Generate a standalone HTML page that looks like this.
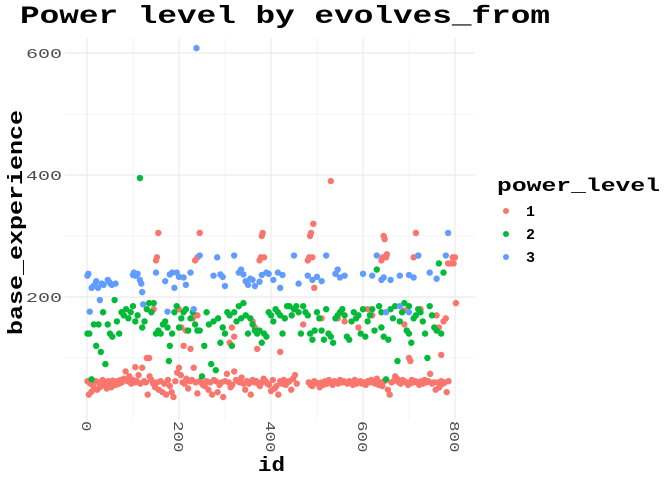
<!DOCTYPE html>
<html><head><meta charset="utf-8"><style>
body{margin:0;background:#fff}
svg text{font-family:"Liberation Mono",monospace}
</style></head><body>
<svg id="chart" width="672" height="480" xmlns="http://www.w3.org/2000/svg">
<rect width="672" height="480" fill="#fff"/>
<text x="20" y="23" font-size="25" font-weight="bold" textLength="530" lengthAdjust="spacingAndGlyphs" fill="#000">Power level by evolves_from</text>
<g id="grid"></g>
<g id="points"></g>
<g id="axes"></g>
<text x="258" y="471" font-size="20" font-weight="bold" textLength="27" lengthAdjust="spacingAndGlyphs">id</text>
<text transform="translate(22,335) rotate(-90)" font-size="20" font-weight="bold" textLength="225" lengthAdjust="spacingAndGlyphs">base_experience</text>
<g>
<text x="497" y="191" font-size="18" font-weight="bold" textLength="163" lengthAdjust="spacingAndGlyphs">power_level</text>
<g><circle cx="506" cy="211" r="3" fill="#F8766D"/><text x="526" y="216" font-size="15" font-weight="bold">1</text></g>
<g><circle cx="506" cy="234" r="3" fill="#00BA38"/><text x="526" y="239" font-size="15" font-weight="bold">2</text></g>
<g><circle cx="506" cy="257" r="3" fill="#619CFF"/><text x="526" y="262" font-size="15" font-weight="bold">3</text></g>
</g>
</svg>
<script>
const xTicks=[0,200,400,600,800];
const yTicks=[200,400,600];
const redIds=[1,4,7,10,13,16,19,22,25,28,31,34,37,40,43,46,50,53,56,60,63,66,70,73,76,80,84,88,92,96,100,104,108,112,116,120,124,128,132,136,140,144,148,152,156,160,164,168,172,176,180,184,188,192,196,200,204,208,212,216,220,224,228,232,236,240,244,248,252,256,260,264,268,272,276,280,284,288,292,296,300,304,308,312,316,320,324,328,332,336,340,344,348,352,356,360,364,368,372,376,380,384,388,392,396,400,404,408,412,416,420,424,428,432,436,440,444,448,452,456,482,486,490,494,498,502,506,510,514,518,522,526,530,534,538,542,546,550,554,558,562,566,570,574,578,582,586,590,594,598,602,606,610,614,618,622,626,630,634,638,642,646,650,654,658,662,666,670,674,678,682,686,690,694,698,702,706,710,714,718,722,726,730,734,738,742,746,750,754,758,762,766,770,774,778,782,786,
130,135,105,150,152,155,140,145,235,240,245,200,205,210,215,225,230,240,310,315,320,360,365,370,375,378,380,382,385,420,430,470,480,483,485,487,490,492,494,510,530,545,560,590,610,620,640,643,645,647,650,652,690,700,703,710,715,720,725,760,765,770,775,780,785,790,795,800,802,797,690];
const redVals=[62,40,58,45,55,50,62,48,60,52,58,64,55,60,50,62,58,52,63,60,56,62,58,64,60,66,78,62,70,58,64,60,62,72,58,84,62,60,40,70,64,58,52,60,48,62,44,58,40,64,54,44,36,62,76,84,72,60,58,66,50,62,64,84,60,42,62,60,56,54,62,48,60,40,64,62,44,56,60,36,62,74,60,52,56,78,64,62,60,68,58,48,62,58,40,64,60,62,58,54,60,66,62,58,56,46,64,50,54,40,62,58,64,56,60,62,48,66,72,58,60,56,54,62,60,58,52,60,56,62,58,64,60,56,62,60,58,64,60,62,60,58,62,60,56,64,58,60,62,58,60,56,62,60,64,60,58,66,56,60,54,62,64,48,40,60,62,70,66,60,58,64,62,60,56,58,64,60,62,60,56,62,58,64,60,62,74,58,60,48,60,52,62,58,60,44,62,
100,100,85,260,265,305,175,180,260,265,305,180,150,120,145,115,165,170,125,150,135,160,150,115,260,265,300,305,265,110,165,155,260,265,300,305,265,320,215,165,390,165,160,150,180,170,260,265,300,295,265,270,155,100,95,265,305,268,180,170,150,105,160,165,255,255,265,265,190,255,178];
const greenIds=[1,5,10,15,20,25,30,35,40,45,50,55,60,65,70,75,80,85,90,95,100,105,110,115,120,125,130,135,140,145,150,155,160,165,170,175,178,180,185,190,195,200,205,210,215,220,225,230,235,240,245,250,255,260,265,270,275,280,285,290,295,300,305,310,315,320,325,330,335,340,345,350,355,360,365,370,375,380,385,390,395,400,405,410,415,420,425,430,435,440,445,450,455,460,465,470,475,480,485,490,495,500,505,510,515,520,525,530,535,540,545,550,555,560,565,570,575,580,585,590,595,600,605,610,615,620,625,630,635,640,645,650,655,660,665,670,675,680,685,690,695,700,705,710,715,720,725,730,735,740,745,750,755,760,765,770,775,700,640];
const greenVals=[140,140,65,155,120,155,110,175,90,155,140,135,195,160,140,175,170,180,165,175,185,160,170,395,150,160,180,190,175,190,140,145,140,155,160,150,95,120,140,175,185,150,165,175,180,145,165,175,155,145,145,70,120,175,155,90,160,80,165,125,150,140,175,170,120,175,160,185,165,190,170,140,165,155,145,140,145,125,140,135,175,170,160,180,175,170,140,165,185,185,170,180,185,175,140,185,175,170,140,130,145,175,165,145,130,180,140,135,125,165,170,175,180,170,135,130,160,175,165,170,140,180,135,160,170,180,145,245,185,150,135,65,130,180,165,185,95,160,175,190,145,140,125,165,170,180,175,160,140,100,185,170,150,145,255,140,240,185,175];
const blueIds=[1,3,6,10,14,17,20,24,28,32,36,45,48,51,54,62,100,102,105,110,115,118,120,122,150,170,175,180,185,190,195,200,210,215,225,232,238,245,275,283,290,295,300,320,330,335,340,345,350,355,360,365,375,380,390,395,405,415,420,425,450,460,480,490,500,510,520,540,545,550,560,600,620,630,640,645,660,680,700,710,720,745,760,780,785,680,700,650];
const blueVals=[235,238,176,215,218,220,226,215,195,222,220,228,225,222,220,222,236,240,235,238,228,222,208,188,240,226,176,237,240,215,240,233,232,220,240,180,608,268,235,265,237,233,218,268,240,245,237,226,220,230,228,218,225,236,240,238,228,240,215,236,268,222,235,228,233,226,268,238,245,232,235,238,235,268,228,232,228,235,236,232,268,240,230,268,305,185,175,175];

const NS="http://www.w3.org/2000/svg";
const X0=65,X1=475,Y0=38,Y1=420;
function xs(v){return 87+v*0.46;}
function ys(v){return 419-v*0.61;}
const grid=document.getElementById('grid');
function line(x1,y1,x2,y2,w,name){
  const l=document.createElementNS(NS,'line');
  l.setAttribute('x1',x1);l.setAttribute('y1',y1);l.setAttribute('x2',x2);l.setAttribute('y2',y2);
  l.setAttribute('stroke','#ebebeb');l.setAttribute('stroke-width',w);
  
  
  grid.appendChild(l);
}
for(let v=100;v<=700;v+=200){line(xs(v),Y0,xs(v),Y1,0.6,'x-minor-gridline');line(X0,ys(v),X1,ys(v),0.6,'y-minor-gridline');}
xTicks.forEach(v=>line(xs(v),Y0,xs(v),Y1,1.2,'x-major-gridline'));
yTicks.forEach(v=>line(X0,ys(v),X1,ys(v),1.2,'y-major-gridline'));
const axes=document.getElementById('axes');
xTicks.forEach(v=>{
  const t=document.createElementNS(NS,'text');
  t.setAttribute('transform','translate('+(xs(v)-5)+',421) rotate(90)');
  t.setAttribute('font-size','14');t.setAttribute('fill','#4d4d4d');
  t.setAttribute('textLength',String(v).length*10.5);t.setAttribute('lengthAdjust','spacingAndGlyphs');
  t.textContent=v;
  
  
  axes.appendChild(t);
});
yTicks.forEach(v=>{
  const t=document.createElementNS(NS,'text');
  t.setAttribute('x',62-String(v).length*12);t.setAttribute('y',ys(v)+5);
  t.setAttribute('font-size','14');t.setAttribute('fill','#4d4d4d');
  t.setAttribute('textLength',String(v).length*12);t.setAttribute('lengthAdjust','spacingAndGlyphs');
  t.textContent=v;
  
  
  axes.appendChild(t);
});
const pts=document.getElementById('points');
function series(ids,vals,color,name){
  ids.forEach((id,i)=>{
    const c=document.createElementNS(NS,'circle');
    c.setAttribute('cx',xs(id));c.setAttribute('cy',ys(vals[i]));c.setAttribute('r',3.2);
    c.setAttribute('fill',color);
    
    
    pts.appendChild(c);
  });
}
series(redIds,redVals,'#F8766D','point-level-1');
series(greenIds,greenVals,'#00BA38','point-level-2');
series(blueIds,blueVals,'#619CFF','point-level-3');
</script>
</body></html>
